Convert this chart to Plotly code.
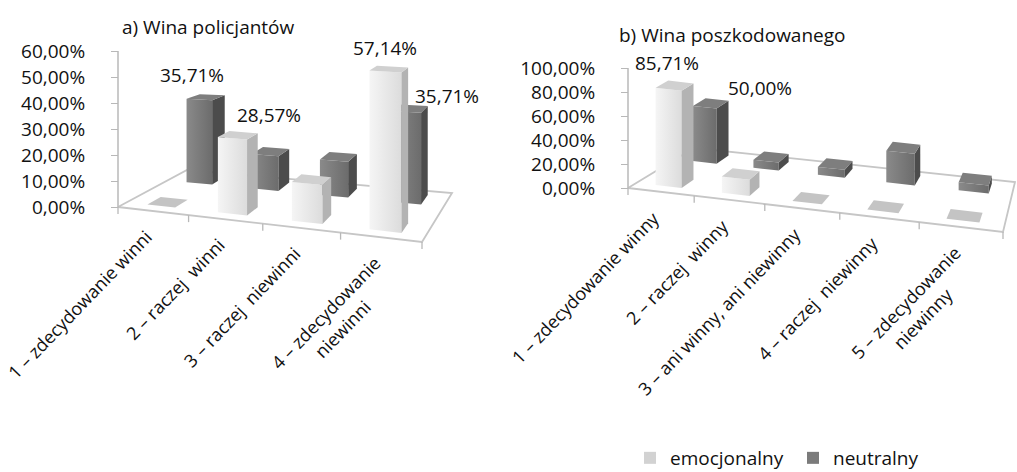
import math
import plotly.graph_objects as go

# ---------------------------------------------------------------- data
SERIES = ["emocjonalny", "neutralny"]

CATS_A = ["1 – zdecydowanie winni", "2 – raczej\u00a0 winni",
          "3 – raczej\u00a0 niewinni", "4 – zdecydowanie<br>niewinni"]
EMO_A = [0.00, 28.57, 14.29, 57.14]
NEU_A = [35.71, 14.29, 14.29, 35.71]
TICKS_A = [0, 10, 20, 30, 40, 50, 60]

CATS_B = ["1 – zdecydowanie winny", "2 – raczej\u00a0 winny",
          "3 – ani winny, ani niewinny", "4 – raczej\u00a0 niewinny",
          "5 – zdecydowanie<br>niewinny"]
EMO_B = [85.71, 14.29, 0.00, 0.00, 0.00]
NEU_B = [50.00, 7.14, 7.14, 28.57, 7.14]
TICKS_B = [0, 20, 40, 60, 80, 100]

TITLES = ["a) Wina policjantów", "b) Wina poszkodowanego"]

# bars that carry a value label: (series, category index)
LABELLED_A = [("neutralny", 0), ("emocjonalny", 1), ("emocjonalny", 3), ("neutralny", 3)]
LABELLED_B = [("emocjonalny", 0), ("neutralny", 0)]

# ---------------------------------------------------------------- style
W, H = 1017, 472
FONT = "Open Sans"
FS = 19
FS_CAT = 18
TXT = "#111111"

ROW_DEPTH = {"emocjonalny": (0.13, 0.33), "neutralny": (0.72, 0.92)}
BAR_SPAN = (0.30, 0.70)          # bar extent inside one category slot
FACE = {
    "emocjonalny": dict(front=("#f5f5f5", "#dcdcdc"), side="#b3b3b3",
                        top="#d0d0d0", flat="#c4c4c4", legend="#d2d2d2"),
    "neutralny": dict(front=("#8a8a8a", "#6c6c6c"), side="#4c4c4c",
                      top="#7e7e7e", flat="#6c6c6c", legend="#7b7b7b"),
}
FLOOR_LINE = "#c6c6c6"
AXIS_LINE = "#b8b8b8"

# oblique/perspective frame of each panel (pixel space)
PANELS = [
    dict(title=TITLES[0], cats=CATS_A, ticks=TICKS_A, labelled=LABELLED_A,
         values={"emocjonalny": EMO_A, "neutralny": NEU_A},
         F0=(118, 207), F1=(422, 242), B0=(187, 170), B1=(452, 193), warp=0.0263,
         k_axis=2.6, k0=2.6, ku=0.07, kd=-0.40, span=(0, 500),
         title_xy=(208, 27),
         label_shift=[(-14, 22), (31, 20), (-4, 21), (37, 13)],
         xa="x", ya="y"),
    dict(title=TITLES[1], cats=CATS_B, ticks=TICKS_B, labelled=LABELLED_B,
         values={"emocjonalny": EMO_B, "neutralny": NEU_B},
         F0=(628, 188), F1=(1003, 232), B0=(694, 148), B1=(1015, 182), warp=0.0344,
         k_axis=1.2, k0=1.14, ku=0.0, kd=-0.05, span=(500, W),
         title_xy=(732, 35),
         label_shift=[(-8, 23), (49, 15)],
         xa="x2", ya="y2"),
]

CAT_LABEL_SHIFT = (7, -11)    # px, relative to the front edge under each slot
CAT_ANGLE = -46
EDGE_TICK = 7                 # px


def fmt(v):
    return f"{v:.2f}".replace(".", ",") + "%"


def project(p, u, d, v):
    """Floor position (u along categories, d in depth) plus height v -> axis units."""
    n = len(p["cats"])
    g = p["warp"]
    t = (u + g * u * u) / (n + g * n * n)
    fx = p["F0"][0] + (p["F1"][0] - p["F0"][0]) * t
    fy = p["F0"][1] + (p["F1"][1] - p["F0"][1]) * t
    bx = p["B0"][0] + (p["B1"][0] - p["B0"][0]) * t
    by = p["B0"][1] + (p["B1"][1] - p["B0"][1]) * t
    sx = (1 - d) * fx + d * bx
    sy = (1 - d) * fy + d * by
    k = p["k0"] + p["ku"] * u + p["kd"] * d
    sy -= v * k
    return (sx - p["F0"][0]) / p["k_axis"], (p["F0"][1] - sy) / p["k_axis"]


fig = go.Figure()


def polygon(p, pts, color, grad=None, line=None, width=0):
    xy = [project(p, *q) for q in pts]
    xs = [a for a, _ in xy] + [xy[0][0]]
    ys = [b for _, b in xy] + [xy[0][1]]
    kw = dict(x=xs, y=ys, mode="lines", fill="toself", fillcolor=color,
              line=dict(width=width, color=line or color),
              hoverinfo="skip", showlegend=False, xaxis=p["xa"], yaxis=p["ya"])
    if grad:
        kw["fillgradient"] = dict(type="horizontal",
                                  colorscale=[[0, grad[0]], [1, grad[1]]])
    fig.add_trace(go.Scatter(**kw))


annotations = []
n_lines_h = FS_CAT * 1.3 * math.sin(math.radians(-CAT_ANGLE))

for p in PANELS:
    n = len(p["cats"])
    # floor plate
    polygon(p, [(0, 0, 0), (n, 0, 0), (n, 1, 0), (0, 1, 0)], "#ffffff",
            line=FLOOR_LINE, width=1.8)
    # value axis line
    x0, y0 = project(p, 0, 0, 0)
    fig.add_trace(go.Scatter(x=[x0, x0], y=[0, max(p["ticks"])], mode="lines",
                             line=dict(color=AXIS_LINE, width=1.5),
                             hoverinfo="skip", showlegend=False,
                             xaxis=p["xa"], yaxis=p["ya"]))
    # category ticks along the front edge
    tx, ty = [], []
    for u in range(n + 1):
        a, b = project(p, u, 0, 0)
        tx += [a, a, None]
        ty += [b, b - EDGE_TICK / p["k_axis"], None]
    fig.add_trace(go.Scatter(x=tx, y=ty, mode="lines",
                             line=dict(color=AXIS_LINE, width=1.3),
                             hoverinfo="skip", showlegend=False,
                             xaxis=p["xa"], yaxis=p["ya"]))

    # columns, back row first
    for s in reversed(SERIES):
        d0, d1 = ROW_DEPTH[s]
        st = FACE[s]
        for i, v in enumerate(p["values"][s]):
            u0, u1 = i + BAR_SPAN[0], i + BAR_SPAN[1]
            if v <= 0:
                polygon(p, [(u0, d0, 0), (u1, d0, 0), (u1, d1, 0), (u0, d1, 0)], st["flat"])
                continue
            polygon(p, [(u0, d0, 0), (u1, d0, 0), (u1, d0, v), (u0, d0, v)],
                    st["front"][1], grad=st["front"])
            polygon(p, [(u1, d0, 0), (u1, d1, 0), (u1, d1, v), (u1, d0, v)], st["side"])
            polygon(p, [(u0, d0, v), (u1, d0, v), (u1, d1, v), (u0, d1, v)], st["top"])

    # value labels
    for (s, i), (dx, dy) in zip(p["labelled"], p["label_shift"]):
        d0, d1 = ROW_DEPTH[s]
        v = p["values"][s][i]
        a, b = project(p, i + sum(BAR_SPAN) / 2, (d0 + d1) / 2, v)
        annotations.append(dict(x=a, y=b, xref=p["xa"], yref=p["ya"], text=fmt(v),
                                showarrow=False, xanchor="center", yanchor="middle",
                                xshift=dx, yshift=dy, font=dict(size=FS, color=TXT)))

    # category labels
    for i, c in enumerate(p["cats"]):
        a, b = project(p, i + 0.5, 0, 0)
        extra = (c.count("<br>")) * n_lines_h
        annotations.append(dict(x=a, y=b, xref=p["xa"], yref=p["ya"], text=c,
                                showarrow=False, textangle=CAT_ANGLE,
                                xanchor="right", yanchor="top",
                                xshift=CAT_LABEL_SHIFT[0] + extra,
                                yshift=CAT_LABEL_SHIFT[1],
                                font=dict(size=FS_CAT, color=TXT)))

    # panel title
    tx_, ty_ = p["title_xy"]
    annotations.append(dict(x=tx_ / W, y=1 - ty_ / H, xref="paper", yref="paper",
                            text=p["title"], showarrow=False, xanchor="center",
                            yanchor="middle", font=dict(size=FS, color=TXT)))

# legend entries
for s in SERIES:
    fig.add_trace(go.Scatter(x=[None], y=[None], mode="markers", name=s,
                             marker=dict(symbol="square", size=12,
                                         color=FACE[s]["legend"]),
                             xaxis="x", yaxis="y"))

layout_axes = {}
for idx, p in enumerate(PANELS):
    sfx = "" if idx == 0 else str(idx + 1)
    L, R = p["span"]
    fx0, fy0 = p["F0"]
    k = p["k_axis"]
    layout_axes["xaxis" + sfx] = dict(domain=[L / W, R / W],
                                      range=[(L - fx0) / k, (R - fx0) / k],
                                      visible=False, fixedrange=True,
                                      anchor="y" + sfx)
    layout_axes["yaxis" + sfx] = dict(domain=[0, 1],
                                      range=[(fy0 - H) / k, fy0 / k],
                                      anchor="free", position=fx0 / W,
                                      tickmode="array",
                                      tickvals=p["ticks"],
                                      ticktext=[fmt(t) for t in p["ticks"]],
                                      ticks="outside", ticklen=7,
                                      tickcolor=AXIS_LINE, tickwidth=1.3,
                                      ticklabelstandoff=22,
                                      showline=False, showgrid=False,
                                      zeroline=False, fixedrange=True,
                                      tickfont=dict(size=FS, color=TXT))

fig.update_layout(
    width=W, height=H,
    margin=dict(l=0, r=0, t=0, b=0, autoexpand=False),
    paper_bgcolor="white", plot_bgcolor="rgba(0,0,0,0)",
    font=dict(family=FONT, size=FS, color=TXT),
    showlegend=True,
    legend=dict(orientation="h", x=630 / W, y=1 - 458 / H,
                xanchor="left", yanchor="middle",
                entrywidth=118, entrywidthmode="pixels",
                font=dict(size=FS, color=TXT), bgcolor="rgba(0,0,0,0)"),
    annotations=annotations,
    **layout_axes,
)

fig.write_html("out.html")
